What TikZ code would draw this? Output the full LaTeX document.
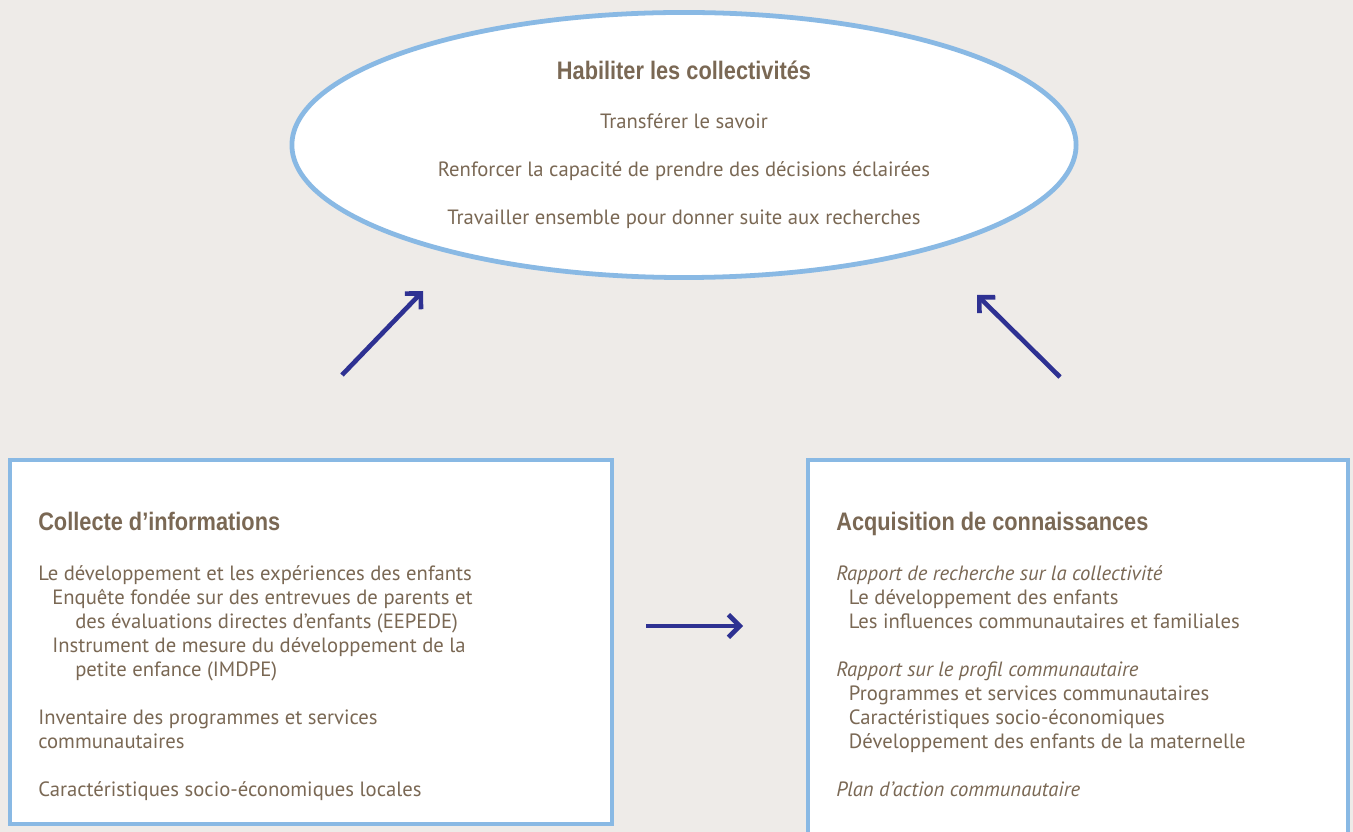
\documentclass[tikz,border=0pt]{standalone}
\usepackage{fontspec}
\setmainfont{PT Sans}
\newfontfamily\headfont[FakeStretch=0.86]{Liberation Sans}
\usetikzlibrary{shapes,arrows,positioning,calc,arrows.meta}
\definecolor{bgcol}{RGB}{238,235,232}
\definecolor{skyb}{RGB}{137,185,228}
\definecolor{txtb}{RGB}{122,104,84}
\definecolor{navy}{RGB}{46,49,146}

\begin{document}
\begin{tikzpicture}[x=0.025cm, y=-0.025cm,
    frame/.style={draw=skyb, line width=3pt, fill=white, rectangle, inner sep=0pt},
    head/.style={font=\headfont\bfseries\fontsize{18}{21}\selectfont, text=txtb, inner sep=0pt},
    body/.style={font=\fontsize{14.7}{17.07}\selectfont, text=txtb, inner sep=0pt, align=left},
    flow/.style={draw=navy, line width=3.3pt, -{Straight Barb[length=8pt, width=16pt]}}]
    \useasboundingbox (0,0) rectangle (1353,832);
    \clip (0,0) rectangle (1353,832);
    \fill[bgcol] (0,0) rectangle (1353,832);

    \node [frame, ellipse, line width=3.4pt, minimum width=784*0.7113pt, minimum height=265*0.7113pt, align=center,
           font=\fontsize{14.7}{19}\selectfont, text=txtb] (habil) at (684,145)
        {{\headfont\bfseries\fontsize{18}{21}\selectfont Habiliter les collectivités}\\[15.5pt]
         Transférer le savoir\\[15.3pt]
         Renforcer la capacité de prendre des décisions éclairées\\[15.3pt]
         Travailler ensemble pour donner suite aux recherches};

    \node [frame, minimum width=602*0.7113pt, minimum height=364*0.7113pt] (collecte) at (311,642) {};
    \node [frame, minimum width=540*0.7113pt, minimum height=400*0.7113pt] (acquis) at (1078,660) {};

    \node [head, anchor=base west] (colhd) at (38,530) {Collecte d’informations};
    \node [body, anchor=north west] (colbd) at (38,565)
        {Le développement et les expériences des enfants\\
         \hspace*{10pt}Enquête fondée sur des entrevues de parents et\\
         \hspace*{26.3pt}des évaluations directes d’enfants (EEPEDE)\\
         \hspace*{10pt}Instrument de mesure du développement de la\\
         \hspace*{26.3pt}petite enfance (IMDPE)\\[17.07pt]
         Inventaire des programmes et services\\
         communautaires\\[17.07pt]
         Caractéristiques socio-économiques locales};

    \node [head, anchor=base west] (acqhd) at (836,530) {Acquisition de connaissances};
    \node [body, anchor=north west] (acqbd) at (836,565)
        {\textit{Rapport de recherche sur la collectivité}\\
         \hspace*{9pt}Le développement des enfants\\
         \hspace*{9pt}Les influences communautaires et familiales\\[17.07pt]
         \textit{Rapport sur le profil communautaire}\\
         \hspace*{9pt}Programmes et services communautaires\\
         \hspace*{9pt}Caractéristiques socio-économiques\\
         \hspace*{9pt}Développement des enfants de la maternelle\\[17.07pt]
         \textit{Plan d’action communautaire}};

    \coordinate (up1s) at (342,375);
    \coordinate (up1e) at (423,291);
    \coordinate (up2s) at (1060,377);
    \coordinate (up2e) at (977,295);
    \coordinate (mids) at (646,626);
    \coordinate (mide) at (743,626);

    \draw [flow] (up1s) -- (up1e);
    \draw [flow] (up2s) -- (up2e);
    \draw [flow] (mids) -- (mide);
\end{tikzpicture}
\end{document}
